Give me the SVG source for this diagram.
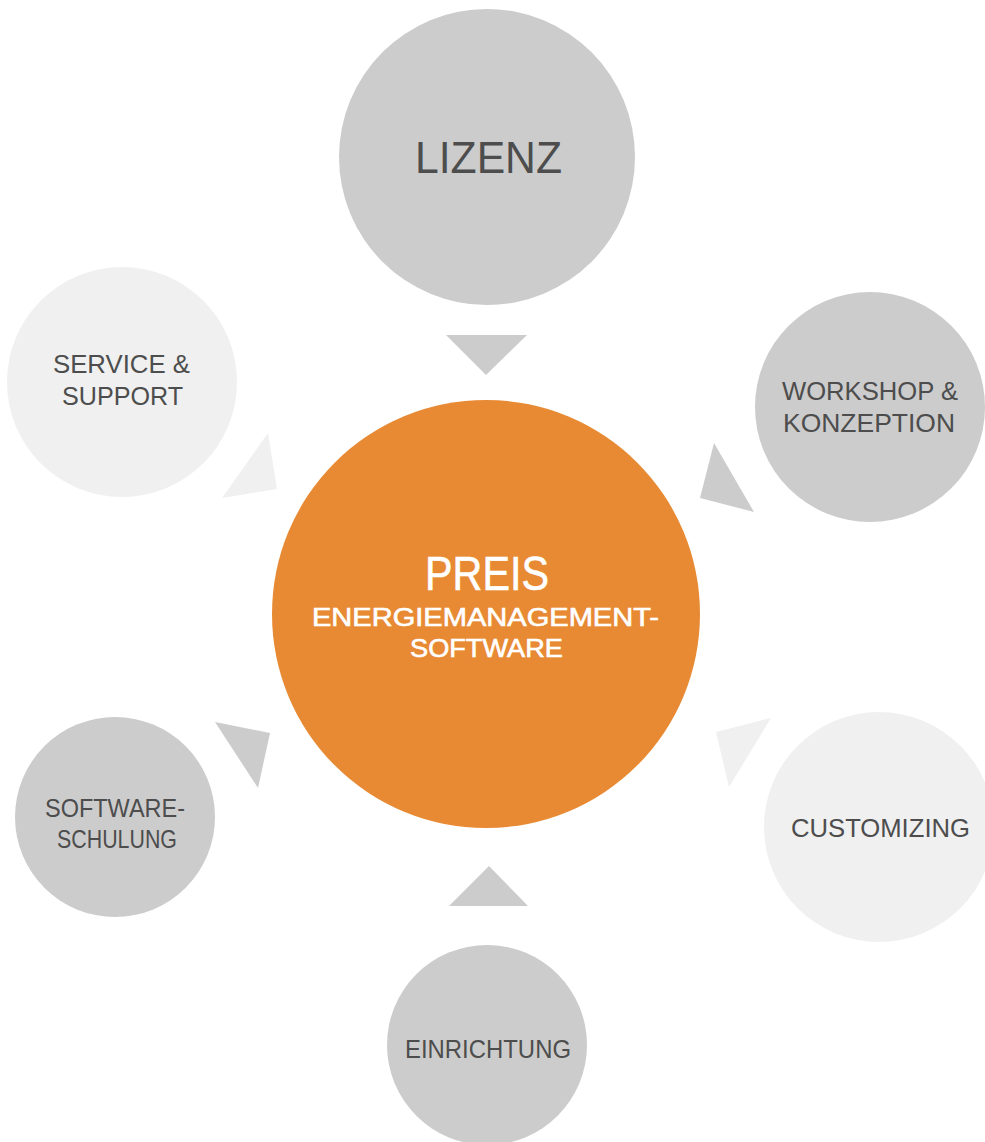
<svg xmlns="http://www.w3.org/2000/svg" width="985" height="1142" viewBox="0 0 985 1142">
<style>
.g{fill:#cccccc}
.l{fill:#f0f0f0}
.o{fill:#e88a33}
text{font-family:"Liberation Sans",Arial,sans-serif;text-anchor:start}
.t{fill:#4d4d4d;font-size:26px}
.w{fill:#ffffff;stroke:#ffffff;stroke-width:0.6px}
</style>
<rect width="985" height="1142" fill="#ffffff"/>
<g id="connectors">
<polygon class="g" points="446,335 527,335 486,375"/>
<polygon class="l" points="268,433 277,489 222,498"/>
<polygon class="g" points="714,443 754,512 700,498"/>
<polygon class="g" points="215,722 270,733 258,788"/>
<polygon class="l" points="771,718 716,732 729,787"/>
<polygon class="g" points="489,866 449,906 528,906"/>
</g>
<g id="lizenz">
<circle class="g" cx="487" cy="157" r="148"/>
<text class="t" x="415" y="173" style="font-size:45px" textLength="147" lengthAdjust="spacingAndGlyphs">LIZENZ</text>
</g>
<g id="service">
<circle class="l" cx="122" cy="382" r="115"/>
<text class="t" x="53" y="373" textLength="137" lengthAdjust="spacingAndGlyphs">SERVICE &amp;</text>
<text class="t" x="62" y="405" textLength="121" lengthAdjust="spacingAndGlyphs">SUPPORT</text>
</g>
<g id="workshop">
<circle class="g" cx="870" cy="407" r="115"/>
<text class="t" x="782" y="400" textLength="176" lengthAdjust="spacingAndGlyphs">WORKSHOP &amp;</text>
<text class="t" x="783" y="432" textLength="172" lengthAdjust="spacingAndGlyphs">KONZEPTION</text>
</g>
<g id="preis">
<circle class="o" cx="486" cy="614" r="214"/>
<text class="w" x="425" y="590" style="font-size:48px" textLength="124" lengthAdjust="spacingAndGlyphs">PREIS</text>
<text class="w" x="312" y="626" style="font-size:25px" textLength="347" lengthAdjust="spacingAndGlyphs">ENERGIEMANAGEMENT-</text>
<text class="w" x="410" y="657" style="font-size:25px" textLength="153" lengthAdjust="spacingAndGlyphs">SOFTWARE</text>
</g>
<g id="schulung">
<circle class="g" cx="115" cy="817" r="100"/>
<text class="t" x="45" y="817" textLength="140" lengthAdjust="spacingAndGlyphs">SOFTWARE-</text>
<text class="t" x="57" y="848" textLength="120" lengthAdjust="spacingAndGlyphs">SCHULUNG</text>
</g>
<g id="customizing">
<circle class="l" cx="879" cy="827" r="115"/>
<text class="t" x="791" y="837" textLength="179" lengthAdjust="spacingAndGlyphs">CUSTOMIZING</text>
</g>
<g id="einrichtung">
<circle class="g" cx="487" cy="1045" r="100"/>
<text class="t" x="405" y="1058" textLength="166" lengthAdjust="spacingAndGlyphs">EINRICHTUNG</text>
</g>
</svg>
